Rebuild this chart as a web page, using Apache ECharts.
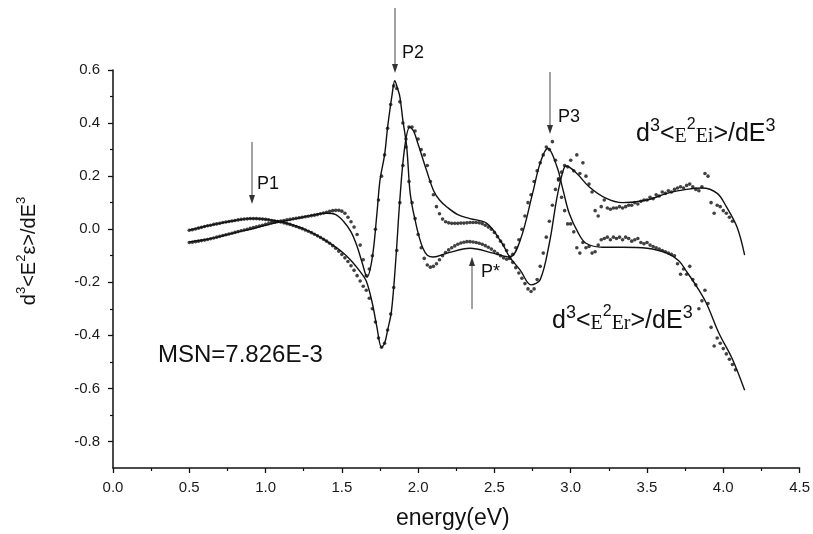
<!DOCTYPE html>
<html><head><meta charset="utf-8">
<script src="https://cdn.jsdelivr.net/npm/echarts@6/dist/echarts.min.js"></script>
<style>html,body{margin:0;padding:0;background:#fff}#c{width:813px;height:534px}</style>
</head><body><div id="c"></div>
<script>
// measured dot energies (eV)
const eDot = [
0.50,0.52,0.54,0.56,0.58,0.60,0.62,0.64,0.66,0.68,
0.70,0.72,0.74,0.76,0.78,0.80,0.82,0.84,0.86,0.88,
0.90,0.92,0.94,0.96,0.98,1.00,1.02,1.04,1.06,1.08,
1.10,1.12,1.14,1.16,1.18,1.20,1.22,1.24,1.26,1.28,
1.30,1.32,1.34,1.36,1.38,1.40,1.42,1.44,1.46,1.48,
1.50,1.52,1.54,1.56,1.58,1.60,1.62,1.64,1.66,1.68,
1.70,1.72,1.74,1.76,1.78,1.80,1.82,1.84,1.86,1.88,
1.90,1.92,1.94,1.96,1.98,2.00,2.02,2.04,2.06,2.08,
2.10,2.12,2.14,2.16,2.18,2.20,2.22,2.24,2.26,2.28,
2.30,2.32,2.34,2.36,2.38,2.40,2.42,2.44,2.46,2.48,
2.50,2.52,2.54,2.56,2.58,2.60,2.62,2.64,2.66,2.68,
2.70,2.72,2.74,2.76,2.78,2.80,2.82,2.84,2.86,2.88,
2.90,2.92,2.94,2.96,2.98,3.00,3.02,3.04,3.06,3.08,
3.10,3.12,3.14,3.16,3.18,3.20,3.22,3.24,3.26,3.28,
3.30,3.32,3.34,3.36,3.38,3.40,3.42,3.44,3.46,3.48,
3.50,3.52,3.54,3.56,3.58,3.60,3.62,3.64,3.66,3.68,
3.70,3.72,3.74,3.76,3.78,3.80,3.82,3.84,3.86,3.88,
3.90,3.92,3.94,3.96,3.98,4.00,4.02,4.04,4.06,4.08];

// measured d3<E2Ei>/dE3 (dots)
const eiDot = [
-0.004,-0.002,0.001,0.004,0.007,0.010,0.013,0.015,0.018,0.020,
0.022,0.025,0.027,0.029,0.031,0.033,0.035,0.037,0.038,0.039,
0.040,0.040,0.040,0.039,0.038,0.037,0.035,0.033,0.031,0.029,
0.027,0.024,0.021,0.018,0.014,0.010,0.006,0.002,-0.003,-0.008,
-0.013,-0.019,-0.025,-0.031,-0.038,-0.045,-0.053,-0.062,-0.072,-0.083,
-0.095,-0.108,-0.122,-0.138,-0.155,-0.175,-0.195,-0.215,-0.23,-0.26,
-0.30,-0.35,-0.41,-0.445,-0.43,-0.38,-0.32,-0.22,-0.08,0.10,
0.24,0.34,0.385,0.385,0.37,0.34,0.30,0.28,0.24,0.18,
0.13,0.085,0.058,0.038,0.028,0.024,0.022,0.022,0.022,0.023,
0.023,0.024,0.025,0.025,0.025,0.024,0.021,0.015,0.008,0.000,
-0.012,-0.028,-0.045,-0.060,-0.080,-0.105,-0.125,-0.145,-0.165,-0.185,
-0.205,-0.225,-0.235,-0.225,-0.19,-0.14,-0.09,-0.03,0.03,0.09,
0.15,0.185,0.215,0.24,0.235,0.26,0.22,0.28,0.21,0.25,
0.20,0.17,0.14,0.07,0.05,0.085,0.11,0.08,0.075,0.08,
0.08,0.085,0.08,0.085,0.09,0.09,0.10,0.095,0.105,0.11,
0.11,0.12,0.115,0.13,0.125,0.14,0.135,0.145,0.14,0.15,
0.155,0.16,0.155,0.165,0.17,0.16,0.15,0.145,0.16,0.21,
0.20,0.10,0.06,0.09,0.085,0.07,0.06,0.045,0.03,null];

// measured d3<E2Er>/dE3 (dots)
const erDot = [
-0.050,-0.049,-0.047,-0.045,-0.043,-0.041,-0.039,-0.036,-0.033,-0.030,
-0.027,-0.024,-0.021,-0.018,-0.015,-0.012,-0.009,-0.006,-0.003,0.000,
0.003,0.006,0.009,0.012,0.015,0.018,0.021,0.024,0.026,0.029,
0.031,0.033,0.035,0.037,0.039,0.041,0.043,0.045,0.047,0.049,
0.051,0.053,0.055,0.058,0.061,0.064,0.067,0.070,0.071,0.071,
0.068,0.060,0.045,0.028,0.008,-0.020,-0.060,-0.115,-0.175,-0.15,
-0.10,0.00,0.11,0.20,0.28,0.38,0.47,0.54,0.53,0.48,
0.40,0.31,0.18,0.10,0.04,-0.02,-0.07,-0.11,-0.135,-0.143,
-0.14,-0.13,-0.115,-0.10,-0.088,-0.078,-0.07,-0.063,-0.057,-0.052,
-0.049,-0.047,-0.047,-0.048,-0.050,-0.053,-0.057,-0.062,-0.068,-0.075,
-0.083,-0.092,-0.10,-0.108,-0.113,-0.11,-0.095,-0.07,-0.04,0.00,
0.05,0.10,0.13,0.18,0.22,0.25,0.28,0.31,0.30,0.33,
0.26,0.19,0.12,0.07,0.02,0.02,-0.01,-0.07,-0.09,-0.05,
-0.07,-0.065,-0.09,-0.085,-0.06,-0.04,-0.035,-0.03,-0.04,-0.03,
-0.035,-0.03,-0.04,-0.03,-0.035,-0.045,-0.04,-0.035,-0.05,-0.055,
-0.05,-0.06,-0.065,-0.07,-0.075,-0.08,-0.085,-0.09,-0.095,-0.10,
-0.13,-0.17,-0.15,-0.17,-0.14,-0.19,-0.21,-0.30,-0.27,-0.23,
-0.28,-0.37,-0.44,-0.41,-0.43,-0.45,-0.47,-0.49,-0.51,-0.53];

// fitted curve Ei
const eiFitE = [0.50,0.60,0.70,0.80,0.90,1.00,1.10,1.20,1.30,1.40,1.50,1.56,1.62,1.66,1.70,1.73,1.76,1.78,1.80,1.825,1.853,1.88,1.91,1.945,1.97,2.00,2.056,2.10,2.14,2.19,2.26,2.34,2.45,2.55,2.60,2.67,2.74,2.80,2.86,2.91,2.95,2.97,3.04,3.12,3.23,3.34,3.50,3.63,3.76,3.86,3.96,4.02,4.09,4.14];
const eiFitV = [-0.003,0.010,0.022,0.033,0.040,0.038,0.028,0.012,-0.012,-0.045,-0.085,-0.118,-0.16,-0.195,-0.28,-0.37,-0.445,-0.43,-0.38,-0.31,-0.12,0.11,0.30,0.385,0.37,0.32,0.22,0.147,0.11,0.083,0.055,0.04,0.022,-0.053,-0.105,-0.155,-0.21,-0.19,-0.053,0.12,0.22,0.238,0.21,0.16,0.117,0.10,0.11,0.135,0.15,0.155,0.135,0.085,0.008,-0.098];

// fitted curve Er
const erFitE = [0.50,0.60,0.70,0.80,0.90,1.00,1.10,1.20,1.30,1.40,1.46,1.51,1.56,1.60,1.635,1.665,1.70,1.73,1.75,1.78,1.80,1.83,1.847,1.865,1.88,1.90,1.925,1.945,1.96,1.98,2.00,2.03,2.06,2.10,2.19,2.34,2.49,2.60,2.67,2.75,2.80,2.85,2.91,2.95,2.99,3.05,3.10,3.21,3.34,3.50,3.63,3.71,3.76,3.83,3.89,3.97,4.06,4.14];
const erFitV = [-0.048,-0.040,-0.028,-0.013,0.000,0.015,0.028,0.040,0.052,0.060,0.055,0.030,-0.010,-0.065,-0.13,-0.18,-0.105,0.06,0.185,0.28,0.385,0.51,0.56,0.53,0.50,0.41,0.31,0.15,0.09,0.035,-0.015,-0.07,-0.098,-0.105,-0.09,-0.072,-0.09,-0.105,-0.04,0.135,0.25,0.305,0.235,0.147,0.06,-0.015,-0.053,-0.068,-0.068,-0.072,-0.09,-0.12,-0.16,-0.22,-0.28,-0.39,-0.49,-0.607];

const yMajor = [-0.8,-0.6,-0.4,-0.2,0.0,0.2,0.4,0.6];
const yMinor = [-0.7,-0.5,-0.3,-0.1,0.1,0.3,0.5];

const pairs = (xs, ys) => xs.map((x, i) => [x, ys[i]]).filter(p => p[1] !== null);

const chart = echarts.init(document.getElementById('c'), null, {renderer: 'canvas'});
const FONT = '"Liberation Sans", Arial, sans-serif';
const SERIF = '"Liberation Serif", "Times New Roman", serif';
const axisTxt = {color: '#1a1a1a', fontSize: 15, fontFamily: FONT};

function supRich(big, small, serifSize) {
  return {
    n: {fontSize: big, fontFamily: FONT, lineHeight: 30, verticalAlign: 'bottom', fill: '#111'},
    s: {fontSize: small, fontFamily: FONT, lineHeight: 18, verticalAlign: 'top', fill: '#111'},
    t: {fontSize: serifSize, fontFamily: SERIF, lineHeight: 26, verticalAlign: 'bottom', fill: '#111'},
    ts: {fontSize: Math.round(small*0.9), fontFamily: FONT, lineHeight: 18, verticalAlign: 'top', fill: '#111'}
  };
}

function arrow(x, y1, y2) { // from y1 to tip y2
  const dir = y2 > y1 ? 1 : -1;
  return [
    {type: 'line', shape: {x1: x, y1: y1, x2: x, y2: y2 - dir*8}, style: {stroke: '#444', lineWidth: 1}, z: 10},
    {type: 'polygon', shape: {points: [[x-3, y2 - dir*9], [x+3, y2 - dir*9], [x, y2]]}, style: {fill: '#333'}, z: 10}
  ];
}

const graphics = [].concat(
  arrow(252, 142, 204),
  arrow(395, 8, 73),
  arrow(550, 72, 134),
  arrow(472, 309, 257),
  [
    {type: 'text', left: 257, top: 175, style: {text: 'P1', font: '18px ' + FONT, fill: '#111'}},
    {type: 'text', left: 402, top: 44, style: {text: 'P2', font: '18px ' + FONT, fill: '#111'}},
    {type: 'text', left: 558, top: 108, style: {text: 'P3', font: '18px ' + FONT, fill: '#111'}},
    {type: 'text', left: 481, top: 263, style: {text: 'P*', font: '18px ' + FONT, fill: '#111'}},
    {type: 'text', left: 158, top: 343, style: {text: 'MSN=7.826E-3', font: '24px ' + FONT, fill: '#111'}},
    {type: 'text', left: 636, top: 117, style: {text: '{n|d}{s|3}{n|<}{t|E}{ts|2}{t|Ei}{n|>/dE}{s|3}', rich: supRich(25, 18, 20)}},
    {type: 'text', left: 552, top: 304, style: {text: '{n|d}{s|3}{n|<}{t|E}{ts|2}{t|Er}{n|>/dE}{s|3}', rich: supRich(25, 18, 20)}},
    {type: 'text', left: 396, top: 507, style: {text: 'energy(eV)', font: '23px ' + FONT, fill: '#111'}},
    {type: 'text', x: 27, y: 251, rotation: Math.PI/2, style: {text: '{n|d}{s|3}{n|<E}{s|2}{n|ε>/dE}{s|3}', align: 'center', verticalAlign: 'middle', rich: {
      n: {fontSize: 20, fontFamily: FONT, lineHeight: 24, verticalAlign: 'bottom', fill: '#111'},
      s: {fontSize: 13, fontFamily: FONT, lineHeight: 14, verticalAlign: 'top', fill: '#111'}
    }}}
  ]
);

chart.setOption({
  animation: false,
  backgroundColor: '#fff',
  grid: {left: 113, right: 13, top: 70, bottom: 66, containLabel: false},
  xAxis: {
    type: 'value', min: 0, max: 4.5, interval: 0.5,
    axisLine: {show: true, onZero: false, lineStyle: {color: '#111', width: 1.5}},
    axisTick: {show: true, length: 5, lineStyle: {color: '#111', width: 1.3}},
    minorTick: {show: true, splitNumber: 2, length: 3, lineStyle: {color: '#111', width: 1.2}},
    axisLabel: Object.assign({margin: 12, formatter: v => v.toFixed(1)}, axisTxt),
    splitLine: {show: false}
  },
  yAxis: [{
    type: 'value', min: -0.9, max: 0.6, interval: 0.1,
    axisLine: {show: true, onZero: false, lineStyle: {color: '#111', width: 1.5}},
    axisTick: {show: true, length: 5, customValues: yMajor, lineStyle: {color: '#111', width: 1.3}},
    axisLabel: Object.assign({margin: 13, customValues: yMajor, formatter: v => v.toFixed(1)}, axisTxt),
    splitLine: {show: false}
  }, {
    type: 'value', min: -0.9, max: 0.6, interval: 0.1, position: 'left',
    axisLine: {show: false},
    axisTick: {show: true, length: 3, customValues: yMinor, lineStyle: {color: '#111', width: 1.2}},
    axisLabel: {show: false},
    splitLine: {show: false}
  }],
  series: [
    {type: 'line', name: 'EiFit', data: pairs(eiFitE, eiFitV), smooth: 0.35, symbol: 'none', lineStyle: {color: '#111', width: 1.4}, z: 3},
    {type: 'line', name: 'ErFit', data: pairs(erFitE, erFitV), smooth: 0.35, symbol: 'none', lineStyle: {color: '#111', width: 1.4}, z: 3},
    {type: 'scatter', name: 'EiDot', data: pairs(eDot, eiDot), symbolSize: 3.6, itemStyle: {color: '#111'}, z: 4},
    {type: 'scatter', name: 'ErDot', data: pairs(eDot, erDot), symbolSize: 3.6, itemStyle: {color: '#111'}, z: 4}
  ],
  graphic: graphics
});
</script></body></html>
